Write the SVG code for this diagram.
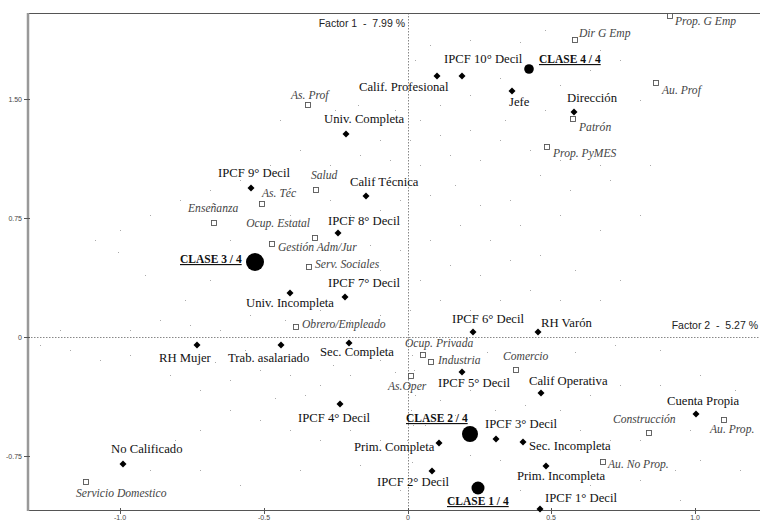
<svg xmlns="http://www.w3.org/2000/svg" xmlns:xlink="http://www.w3.org/1999/xlink" width="760" height="521" viewBox="0 0 760 521">
<style>
.lb{font-family:"Liberation Serif","Times New Roman",serif;font-size:12.7px;fill:#111}
.it{font-family:"Liberation Serif","Times New Roman",serif;font-style:italic;font-size:11.6px;fill:#444}
.cl{font-family:"Liberation Serif","Times New Roman",serif;font-weight:bold;font-size:11.5px;fill:#111;text-decoration:underline}
.ax{font-family:"Liberation Sans",Arial,sans-serif;font-size:10.5px;fill:#222;white-space:pre}
.tk{font-family:"Liberation Sans",Arial,sans-serif;font-size:7px;fill:#444}
.dm{fill:#000}
.sq{fill:#fff;stroke:#555;stroke-width:0.9}
.big{fill:#000}
</style>
<defs>
<path id="dm" d="M0 -3.5L3.5 0L0 3.5L-3.5 0Z"/>
<rect id="sq" x="-2.5" y="-2.5" width="5" height="5"/>
</defs>
<rect width="760" height="521" fill="#fff"/>
<g id="dots" fill="none" stroke="#aaa" stroke-width="1">
<path d="M470 40.5h1M490 55.5h1M520 42.5h1M545 30.5h1M600 50.5h1M430 45.5h1M415 60.5h1M500 78.5h1M560 85.5h1M590 70.5h1M620 60.5h1M640 100.5h1M545 110.5h1M505 120.5h1M470 95.5h1M440 105.5h1M420 120.5h1M395 110.5h1M380 90.5h1M358 105.5h1M335 110.5h1M300 95.5h1M280 120.5h1M380 140.5h1M410 140.5h1M440 135.5h1M470 130.5h1M500 140.5h1M530 150.5h1M560 160.5h1M600 165.5h1M650 165.5h1M480 160.5h1M450 155.5h1M420 165.5h1M390 160.5h1M360 155.5h1M330 165.5h1M300 150.5h1M270 165.5h1M240 180.5h1M210 190.5h1M180 200.5h1M150 215.5h1M120 230.5h1M95 240.5h1M118 252.5h1M145 275.5h1M185 300.5h1M210 280.5h1M230 240.5h1M260 225.5h1M290 215.5h1M330 200.5h1M350 215.5h1M380 210.5h1M400 200.5h1M430 195.5h1M455 185.5h1M480 205.5h1M510 200.5h1M540 175.5h1M570 190.5h1M610 180.5h1M640 215.5h1M600 230.5h1M560 215.5h1M520 225.5h1M490 240.5h1M460 225.5h1M430 240.5h1M400 250.5h1M370 245.5h1M345 260.5h1M380 270.5h1M420 280.5h1M450 265.5h1M480 275.5h1M510 260.5h1M540 255.5h1M575 270.5h1M620 280.5h1M600 300.5h1M560 300.5h1M530 290.5h1M500 300.5h1M470 310.5h1M440 300.5h1M410 310.5h1M380 315.5h1M350 320.5h1M320 310.5h1M285 320.5h1M250 315.5h1M220 330.5h1M190 325.5h1M160 320.5h1M130 330.5h1M60 330.5h1M40 345.5h1M70 350.5h1M100 360.5h1M130 355.5h1M170 375.5h1M200 390.5h1M230 380.5h1M260 370.5h1M290 375.5h1M320 385.5h1M350 375.5h1M380 360.5h1M415 395.5h1M440 400.5h1M470 390.5h1M500 385.5h1M525 405.5h1M560 410.5h1M590 395.5h1M620 385.5h1M660 385.5h1M700 375.5h1M735 390.5h1M640 440.5h1M610 440.5h1M580 430.5h1M560 450.5h1M500 460.5h1M470 455.5h1M410 450.5h1M380 440.5h1M350 430.5h1M320 440.5h1M290 430.5h1M260 420.5h1M230 410.5h1M200 430.5h1M175 440.5h1M150 470.5h1M200 470.5h1M240 485.5h1M300 470.5h1M360 465.5h1M400 490.5h1M520 490.5h1M590 485.5h1M640 480.5h1M700 460.5h1M740 470.5h1M680 500.5h1M412 355.5h1M414 370.5h1M409 385.5h1M411 410.5h1M413 425.5h1M407 440.5h1M412 462.5h1M415 478.5h1M453 345.5h1M487 352.5h1M445 380.5h1M395 372.5h1M365 352.5h1M333 365.5h1M305 395.5h1M275 398.5h1M245 350.5h1M215 362.5h1M495 410.5h1M545 425.5h1M575 352.5h1M615 345.5h1M660 350.5h1M690 430.5h1M675 470.5h1M425 425.5h1M455 415.5h1"/>
</g>
<g id="axes">
<line x1="408.5" y1="13" x2="408.5" y2="511" stroke="#888" stroke-width="1" stroke-dasharray="1.5 1.5"/>
<line x1="28" y1="337.5" x2="760" y2="337.5" stroke="#888" stroke-width="1" stroke-dasharray="1.5 1.5"/>
<line x1="28" y1="13.5" x2="760" y2="13.5" stroke="#555" stroke-width="1"/>
<line x1="28" y1="510.5" x2="760" y2="510.5" stroke="#555" stroke-width="1"/>
<line x1="28" y1="13" x2="28" y2="511" stroke="#999" stroke-width="2.5"/>
<g stroke="#555" stroke-width="1">
<line x1="24" y1="99.5" x2="30" y2="99.5"/>
<line x1="24" y1="218.5" x2="30" y2="218.5"/>
<line x1="24" y1="337.5" x2="30" y2="337.5"/>
<line x1="24" y1="456.5" x2="30" y2="456.5"/>
<line x1="120.5" y1="508" x2="120.5" y2="514"/>
<line x1="264.5" y1="508" x2="264.5" y2="514"/>
<line x1="408.5" y1="508" x2="408.5" y2="514"/>
<line x1="551.5" y1="508" x2="551.5" y2="514"/>
<line x1="695.5" y1="508" x2="695.5" y2="514"/>
</g>
<text class="tk" x="22" y="102" text-anchor="end">1.50</text>
<text class="tk" x="22" y="221" text-anchor="end">0.75</text>
<text class="tk" x="22" y="340" text-anchor="end">0</text>
<text class="tk" x="22" y="459" text-anchor="end">-0.75</text>
<text class="tk" x="120" y="520" text-anchor="middle">-1.0</text>
<text class="tk" x="264" y="520" text-anchor="middle">-0.5</text>
<text class="tk" x="408" y="520" text-anchor="middle">0</text>
<text class="tk" x="551" y="520" text-anchor="middle">0.5</text>
<text class="tk" x="695" y="520" text-anchor="middle">1.0</text>
<text class="ax" x="405" y="27" text-anchor="end">Factor 1  -  7.99 %</text>
<text class="ax" x="758" y="329" text-anchor="end">Factor 2  -  5.27 %</text>
</g>
<g id="connectors"></g>
<g id="ipcf10"><use xlink:href="#dm" class="dm" x="462" y="76"/><text class="lb" x="444" y="63">IPCF 10° Decil</text></g>
<g id="califprof"><use xlink:href="#dm" class="dm" x="437" y="76"/><text class="lb" x="359" y="91">Calif. Profesional</text></g>
<g id="jefe"><use xlink:href="#dm" class="dm" x="512" y="91"/><text class="lb" x="509" y="106">Jefe</text></g>
<g id="direccion"><use xlink:href="#dm" class="dm" x="574" y="112"/><text class="lb" x="567" y="102">Dirección</text></g>
<g id="univcomp"><use xlink:href="#dm" class="dm" x="346" y="134"/><text class="lb" x="324" y="123">Univ. Completa</text></g>
<g id="ipcf9"><use xlink:href="#dm" class="dm" x="251" y="188"/><text class="lb" x="218" y="177">IPCF 9° Decil</text></g>
<g id="califtec"><use xlink:href="#dm" class="dm" x="366" y="196"/><text class="lb" x="350" y="186">Calif Técnica</text></g>
<g id="ipcf8"><use xlink:href="#dm" class="dm" x="338" y="233"/><text class="lb" x="328" y="225">IPCF 8° Decil</text></g>
<g id="ipcf7"><use xlink:href="#dm" class="dm" x="345" y="297"/><text class="lb" x="328" y="287">IPCF 7° Decil</text></g>
<g id="univinc"><use xlink:href="#dm" class="dm" x="290" y="293"/><text class="lb" x="246" y="307">Univ. Incompleta</text></g>
<g id="ipcf6"><use xlink:href="#dm" class="dm" x="473" y="332"/><text class="lb" x="452" y="323">IPCF 6° Decil</text></g>
<g id="rhvaron"><use xlink:href="#dm" class="dm" x="538" y="332"/><text class="lb" x="541" y="327">RH Varón</text></g>
<g id="rhmujer"><use xlink:href="#dm" class="dm" x="197" y="345"/><text class="lb" x="159" y="362">RH Mujer</text></g>
<g id="trabasal"><use xlink:href="#dm" class="dm" x="281" y="345"/><text class="lb" x="228" y="362">Trab. asalariado</text></g>
<g id="seccomp"><use xlink:href="#dm" class="dm" x="349" y="343"/><text class="lb" x="320" y="356">Sec. Completa</text></g>
<g id="ipcf5"><use xlink:href="#dm" class="dm" x="462" y="372"/><text class="lb" x="438" y="387">IPCF 5° Decil</text></g>
<g id="califop"><use xlink:href="#dm" class="dm" x="541" y="393"/><text class="lb" x="529" y="385">Calif Operativa</text></g>
<g id="ipcf4"><use xlink:href="#dm" class="dm" x="340" y="404"/><text class="lb" x="298" y="422">IPCF 4° Decil</text></g>
<g id="cuentaprop"><use xlink:href="#dm" class="dm" x="696" y="414"/><text class="lb" x="667" y="405">Cuenta Propia</text></g>
<g id="ipcf3"><use xlink:href="#dm" class="dm" x="496" y="439"/><text class="lb" x="485" y="428">IPCF 3° Decil</text></g>
<g id="secinc"><use xlink:href="#dm" class="dm" x="523" y="442"/><text class="lb" x="529" y="450">Sec. Incompleta</text></g>
<g id="primcomp"><use xlink:href="#dm" class="dm" x="439" y="443"/><text class="lb" x="354" y="451">Prim. Completa</text></g>
<g id="nocalif"><use xlink:href="#dm" class="dm" x="123" y="464"/><text class="lb" x="111" y="453">No Calificado</text></g>
<g id="priminc"><use xlink:href="#dm" class="dm" x="546" y="466"/><text class="lb" x="517" y="480">Prim. Incompleta</text></g>
<g id="ipcf2"><use xlink:href="#dm" class="dm" x="432" y="471"/><text class="lb" x="377" y="486">IPCF 2° Decil</text></g>
<g id="ipcf1"><use xlink:href="#dm" class="dm" x="540" y="509"/><text class="lb" x="545" y="502">IPCF 1° Decil</text></g>
<g id="propgemp"><use xlink:href="#sq" class="sq" x="670" y="16"/><text class="it" x="675" y="25">Prop. G Emp</text></g>
<g id="dirgemp"><use xlink:href="#sq" class="sq" x="575" y="40"/><text class="it" x="579" y="37">Dir G Emp</text></g>
<g id="auprof"><use xlink:href="#sq" class="sq" x="656" y="83"/><text class="it" x="662" y="94">Au. Prof</text></g>
<g id="asprof"><use xlink:href="#sq" class="sq" x="308" y="105"/><text class="it" x="291" y="99">As. Prof</text></g>
<g id="patron"><use xlink:href="#sq" class="sq" x="573" y="119"/><text class="it" x="579" y="131">Patrón</text></g>
<g id="proppymes"><use xlink:href="#sq" class="sq" x="547" y="147"/><text class="it" x="553" y="157">Prop. PyMES</text></g>
<g id="salud"><use xlink:href="#sq" class="sq" x="316" y="190"/><text class="it" x="311" y="179">Salud</text></g>
<g id="astec"><use xlink:href="#sq" class="sq" x="262" y="204"/><text class="it" x="262" y="197">As. Téc</text></g>
<g id="ensenanza"><use xlink:href="#sq" class="sq" x="214" y="223"/><text class="it" x="188" y="212">Enseñanza</text></g>
<g id="ocupestatal"><use xlink:href="#sq" class="sq" x="315" y="238"/><text class="it" x="310" y="227" text-anchor="end">Ocup. Estatal</text></g>
<g id="gestion"><use xlink:href="#sq" class="sq" x="272" y="244"/><text class="it" x="278" y="251">Gestión Adm/Jur</text></g>
<g id="servsoc"><use xlink:href="#sq" class="sq" x="309" y="267"/><text class="it" x="315" y="268">Serv. Sociales</text></g>
<g id="obrero"><use xlink:href="#sq" class="sq" x="296" y="327"/><text class="it" x="302" y="328">Obrero/Empleado</text></g>
<g id="ocupprivada"><use xlink:href="#sq" class="sq" x="423" y="355"/><text class="it" x="405" y="347">Ocup. Privada</text></g>
<g id="industria"><use xlink:href="#sq" class="sq" x="431" y="362"/><text class="it" x="438" y="364">Industria</text></g>
<g id="comercio"><use xlink:href="#sq" class="sq" x="516" y="370"/><text class="it" x="503" y="360">Comercio</text></g>
<g id="asoper"><use xlink:href="#sq" class="sq" x="411" y="376"/><text class="it" x="388" y="390">As.Oper</text></g>
<g id="construccion"><use xlink:href="#sq" class="sq" x="649" y="433"/><text class="it" x="613" y="423">Construcción</text></g>
<g id="auprop"><use xlink:href="#sq" class="sq" x="724" y="420"/><text class="it" x="710" y="433">Au. Prop.</text></g>
<g id="aunoprop"><use xlink:href="#sq" class="sq" x="603" y="462"/><text class="it" x="608" y="468">Au. No Prop.</text></g>
<g id="servdom"><use xlink:href="#sq" class="sq" x="86" y="482"/><text class="it" x="76" y="497">Servicio Domestico</text></g>
<g id="clase4"><circle class="big" cx="529" cy="69" r="4.8"/><text class="cl" x="539" y="63">CLASE 4 / 4</text></g>
<g id="clase3"><circle class="big" cx="255" cy="262" r="9"/><text class="cl" x="180" y="263">CLASE 3 / 4</text></g>
<g id="clase2"><circle class="big" cx="470" cy="434" r="8"/><text class="cl" x="406" y="422">CLASE 2 / 4</text></g>
<g id="clase1"><circle class="big" cx="478" cy="488" r="6.5"/><text class="cl" x="447" y="505">CLASE 1 / 4</text></g>
</svg>
